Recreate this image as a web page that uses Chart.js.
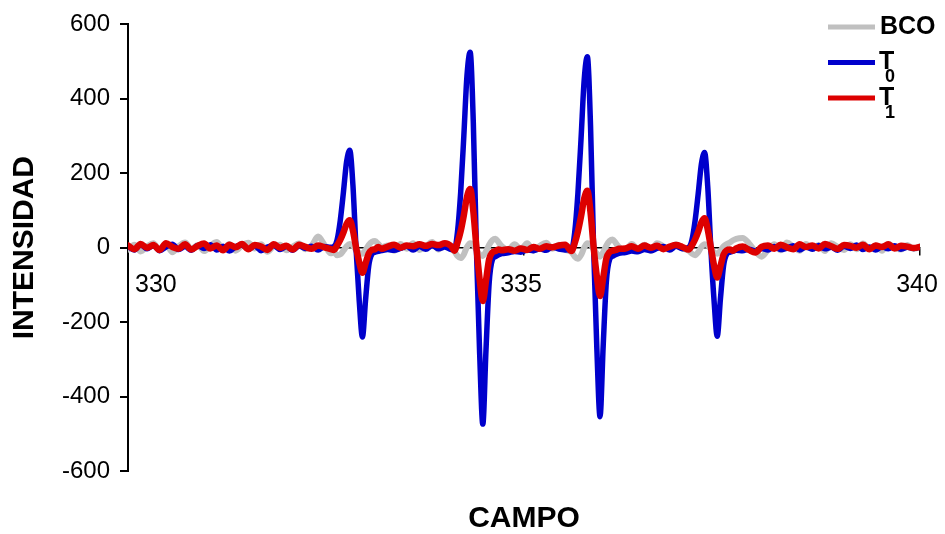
<!DOCTYPE html>
<html>
<head>
<meta charset="utf-8">
<script src="https://cdn.jsdelivr.net/npm/chart.js@4.4.1/dist/chart.umd.min.js"></script>
<style>
  html, body { margin: 0; padding: 0; background: #fff; }
</style>
</head>
<body>
<canvas id="chart" width="945" height="534"></canvas>
<script>
// Field sweep (x), denser sampling around the four lines
const campo = [
  330.00, 330.08, 330.16, 330.24, 330.32, 330.40, 330.48, 330.56, 330.64, 330.72, 330.80, 330.88, 330.96, 331.04, 331.12, 331.20, 331.28, 331.36, 331.44, 331.52, 331.60, 331.68, 331.76, 331.84, 331.92, 332.00, 332.08, 332.16, 332.24, 332.32, 332.40, 332.48, 332.56,
  332.60, 332.64, 332.68, 332.72, 332.76, 332.80, 332.84, 332.88, 332.92, 332.96, 333.00, 333.04, 333.08, 333.12, 333.16, 333.20,
  333.28, 333.36, 333.44, 333.52, 333.60, 333.68, 333.76, 333.84, 333.92, 334.00, 334.08,
  334.12, 334.16, 334.20, 334.24, 334.28, 334.32, 334.36, 334.40, 334.44, 334.48, 334.52, 334.56, 334.60, 334.64, 334.68, 334.72,
  334.80, 334.88, 334.96, 335.04, 335.12, 335.20, 335.28, 335.36, 335.44, 335.52,
  335.60, 335.64, 335.68, 335.72, 335.76, 335.80, 335.84, 335.88, 335.92, 335.96, 336.00, 336.04, 336.08, 336.12, 336.16, 336.20,
  336.28, 336.36, 336.44, 336.52, 336.60, 336.68, 336.76, 336.84, 336.92, 337.00,
  337.08, 337.12, 337.16, 337.20, 337.24, 337.28, 337.32, 337.36, 337.40, 337.44, 337.48, 337.52, 337.56, 337.60, 337.64, 337.68,
  337.76, 337.84, 337.92, 338.00, 338.08, 338.16, 338.24, 338.32, 338.40, 338.48, 338.56, 338.64, 338.72, 338.80, 338.88, 338.96, 339.04, 339.12, 339.20, 339.28, 339.36, 339.44, 339.52, 339.60, 339.68, 339.76, 339.84, 339.92, 340.00
];

const bco = [
  -5, 8, -10, 3, 12, -6, 9, -12, 4, 14, -3, 7, -9, 5, 15, -4, 10, -8, 6, 13, -2, 9, -11, 4, 8, -7, 3, 11, -4, 6, 30, 8, -15,
  -12, -20, -18, -8, 4, 10, 5, -6, -14, -16, -6, 8, 16, 18, 10, 2,
  6, -8, 10, -3, 12, -6, 4, 15, -5, 9, -4,
  -10, -22, -28, -18, 2, 12, 8, -6, -18, -22, -10, 8, 20, 24, 14, 4,
  -6, 9, -4, 12, -8, 5, 13, -3, 8, -5,
  -12, -24, -30, -20, 0, 12, 9, -4, -16, -24, -12, 6, 18, 22, 12, 2,
  -7, 10, -3, 8, -9, 12, 4, -5, 9, -2,
  -8, -16, -20, -12, 2, 9, 6, -4, -12, -16, -8, 4, 10, 14, 20, 24,
  26, 12, -10, -24, -6, 9, -7, 14, 3, -8, 10, -3, 7, -9, 12, 2, -6, 9, -4, 11, -2, 6, -8, 10, 1, -5, 7, -3, 4
];

const t0 = [
  4, -6, 8, -3, 6, -8, 2, 9, -5, 3, -7, 6, -2, 8, -6, 4, -9, 3, 7, -4, 5, -8, 2, 6, -5, 3, -7, 5, -2, 4, -6, 3, 1,
  3, 21, 73, 149, 231, 262, 168, -5, -144, -240, -139, -48, -17, -12, -10, -8,
  -5, -7, -2, 4, -6, 3, -4, 6, -3, 2, -5,
  -3, 42, 147, 299, 462, 525, 336, -10, -284, -474, -275, -95, -33, -24, -19, -16,
  -14, -10, -12, -6, -8, -3, -7, 2, -4, -6,
  -4, 41, 144, 292, 451, 513, 328, -9, -272, -454, -263, -91, -32, -23, -18, -15,
  -13, -9, -11, -5, -8, -2, 3, -6, 4, -3,
  1, 20, 72, 146, 225, 256, 164, -5, -143, -238, -138, -48, -17, -12, -9, -7,
  -8, -4, -9, -2, -6, 3, -5, -1, 5, -6, 2, -4, 6, -3, 1, -7, 4, -2, 7, -5, 2, -6, 3, -3, 5, -4, 1, -2, 2
];

const t1 = [
  6, -4, 10, 0, 7, -6, 12, 2, -3, 9, -5, 5, 11, -2, 6, -7, 8, 1, 10, -4, 7, 3, -6, 9, 0, 5, -5, 8, 2, -3, 6, 1, -4,
  -6, 6, 21, 41, 64, 74, 46, 0, -40, -67, -42, -15, -6, -4, 2, -3,
  3, 8, 0, 6, 4, 9, 5, 10, 7, 12, 4,
  -8, 13, 44, 87, 136, 158, 98, 0, -86, -143, -89, -31, -13, -9, -5, -7,
  -4, -8, -2, -6, 2, -3, 4, 1, 6, 8,
  -9, 12, 43, 84, 132, 153, 95, 0, -78, -130, -81, -29, -12, -8, -6, -3,
  -2, 4, -3, 6, 0, 5, -4, 3, 7, 2,
  -5, 6, 22, 43, 68, 79, 49, 0, -48, -80, -50, -18, -7, -5, -8, -2,
  3, -6, -13, 2, 6, -3, 8, 1, -4, 9, 2, 6, -2, 10, 4, -3, 7, 5, 0, 8, -4, 6, 2, 9, -2, 5, 3, -1, 2
];

const seriesNames = ['BCO', 'T0', 'T1'];
const seriesColors = ['#c0c0c0', '#0000cc', '#dd0000'];
const seriesWidths = [6, 5.5, 6.5];
const xTickLabels = [330, 335, 340];
const yTickValues = [-600, -400, -200, 0, 200, 400, 600];

const FONT = 'Arial, "Liberation Sans", sans-serif';

const toPoints = ys => campo.map((x, i) => ({ x: x, y: ys[i] }));

const datasets = [bco, t0, t1].map((vals, i) => ({
  label: seriesNames[i],
  data: toPoints(vals),
  borderColor: seriesColors[i],
  backgroundColor: seriesColors[i],
  borderWidth: seriesWidths[i],
  pointRadius: 0,
  cubicInterpolationMode: 'monotone',
  borderJoinStyle: 'round',
  borderCapStyle: 'round',
  order: 3 - i
}));

// x labels under the zero line + legend with subscripts
const extras = {
  id: 'extras',
  afterDraw(chart) {
    const ctx = chart.ctx;
    const xs = chart.scales.x;
    const base = chart.scales.y.getPixelForValue(0);
    ctx.save();
    ctx.fillStyle = '#000';
    ctx.textBaseline = 'middle';
    ctx.font = '25px ' + FONT;
    xTickLabels.forEach((v, i) => {
      const px = xs.getPixelForValue(v);
      if (i === 0) {
        ctx.textAlign = 'left';
        ctx.fillText(String(v), px + 7, base + 37);
      } else {
        ctx.textAlign = 'center';
        ctx.fillText(String(v), px - 3, base + 37);
      }
    });

    ctx.textAlign = 'left';
    chart.data.datasets.forEach((ds, i) => {
      const y = 27 + i * 35.5;
      ctx.strokeStyle = ds.borderColor;
      ctx.lineWidth = 5;
      ctx.beginPath();
      ctx.moveTo(828, y);
      ctx.lineTo(875, y);
      ctx.stroke();
      const m = ds.label.match(/^([A-Z])(\d)$/);
      ctx.fillStyle = '#000';
      if (m) {
        ctx.font = 'bold 25px ' + FONT;
        ctx.fillText(m[1], 879, y);
        ctx.font = 'bold 18px ' + FONT;
        ctx.fillText(m[2], 885, y + 15);
      } else {
        ctx.font = 'bold 25px ' + FONT;
        ctx.fillText(ds.label, 880, y);
      }
    });
    ctx.restore();
  }
};

new Chart(document.getElementById('chart'), {
  type: 'line',
  data: { datasets: datasets },
  plugins: [extras],
  options: {
    responsive: false,
    animation: false,
    devicePixelRatio: 1,
    layout: { padding: { top: 23, right: 25, bottom: 0, left: 0 } },
    plugins: {
      legend: { display: false },
      tooltip: { enabled: false }
    },
    scales: {
      x: {
        type: 'linear',
        min: 330,
        max: 340,
        position: { y: 0 },
        afterBuildTicks: s => { s.ticks = xTickLabels.map(v => ({ value: v })); },
        ticks: { display: false },
        grid: { drawOnChartArea: false, drawTicks: true, tickLength: 7, color: '#000', lineWidth: 1.5 },
        border: { color: '#000', width: 1.5 }
      },
      campoTitle: {
        type: 'linear',
        axis: 'x',
        position: 'bottom',
        min: 330,
        max: 340,
        ticks: { display: false },
        grid: { display: false, drawTicks: false },
        border: { display: false },
        title: {
          display: true,
          text: 'CAMPO',
          color: '#000',
          font: { family: FONT, size: 30, weight: 'bold', lineHeight: 1 },
          padding: { top: 33, bottom: 0 }
        }
      },
      y: {
        min: -600,
        max: 600,
        afterBuildTicks: s => { s.ticks = yTickValues.map(v => ({ value: v })); },
        afterFit: s => { s.width = 128; },
        ticks: { color: '#000', padding: 10, font: { family: FONT, size: 24 } },
        grid: { drawOnChartArea: false, drawTicks: true, tickLength: 8, color: '#000', lineWidth: 2 },
        border: { color: '#000', width: 2 },
        title: {
          display: true,
          text: 'INTENSIDAD',
          color: '#000',
          font: { family: FONT, size: 30, weight: 'bold', lineHeight: 1 },
          padding: { top: 10, bottom: 0 }
        }
      }
    }
  }
});
</script>
</body>
</html>
